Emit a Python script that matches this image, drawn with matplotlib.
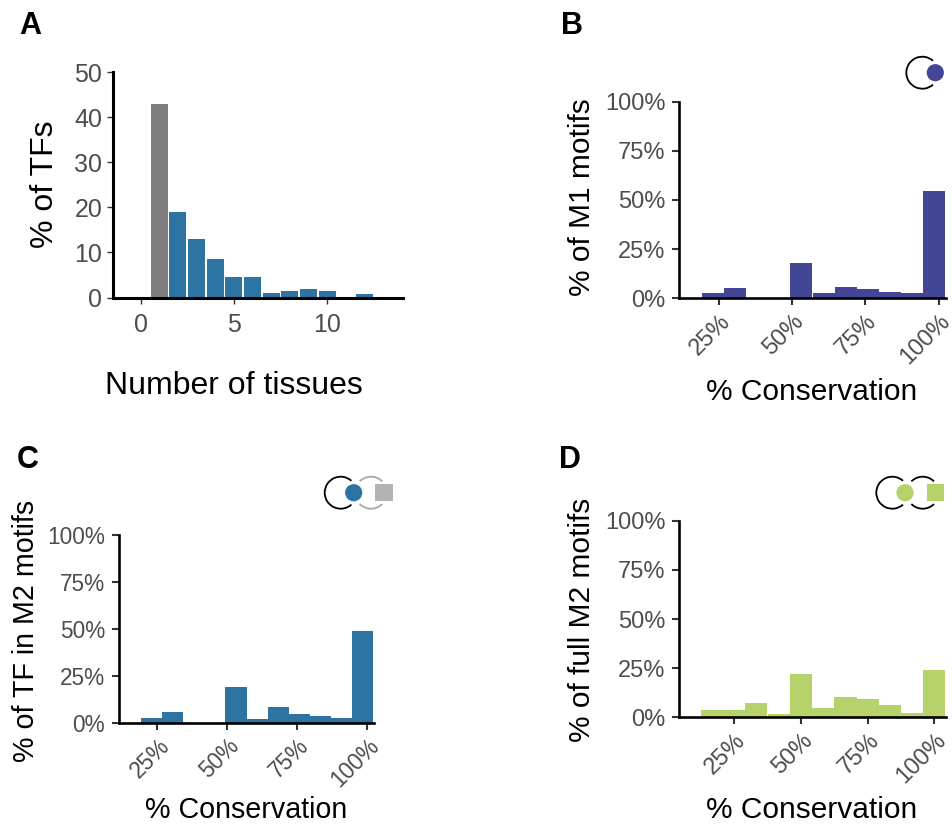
import matplotlib
matplotlib.use("Agg")
import matplotlib.pyplot as plt
from matplotlib.patches import Arc, Circle, Rectangle
from matplotlib.transforms import ScaledTranslation

plt.rcParams['font.family'] = ['Liberation Sans', 'DejaVu Sans']

W = 953
H = 825

# panel A
tissues = [1, 2, 3, 4, 5, 6, 7, 8, 9, 10, 12]
tf_pct = [42.9, 19, 13, 8.6, 4.5, 4.5, 0.9, 1.4, 1.8, 1.4, 0.7]

# panels B and C share the bins
cons_bins = [23, 30.5, 38.1, 45.6, 53.2, 60.8, 68.3, 75.9, 83.4, 91, 98.5]
m1_pct = [2.7, 5.3, 0, 0, 18, 2.7, 5.8, 4.7, 3.2, 2.7, 54.6]
tf_m2_pct = [2.5, 5.7, 0, 0, 19, 2, 8.3, 4.6, 3.6, 2.5, 49]

# panel D
full_bins = [16.7, 25, 33.3, 41.7, 50, 58.3, 66.7, 75, 83.3, 91.7, 100]
full_m2_pct = [3.7, 3.7, 7.3, 1.7, 22, 4.7, 10.3, 9.3, 6.3, 2.2, 24]

pct_ticks = [0, 25, 50, 75, 100]
pct_labels = ["0%", "25%", "50%", "75%", "100%"]
cons_ticks = [25, 50, 75, 100]
cons_labels = ["25%", "50%", "75%", "100%"]

BLUE = "#2d74a3"
GREY = "#7f7f7f"
PURPLE = "#434595"
GREEN = "#b6d26a"
TICK_COL = "#4d4d4d"


def make_axes(left, right, top, bottom):
    ax = fig.add_axes([left / W, 1 - bottom / H, (right - left) / W, (bottom - top) / H])
    ax.spines["top"].set_visible(False)
    ax.spines["right"].set_visible(False)
    ax.patch.set_alpha(0)
    return ax


def put_text(x, y, s, **kw):
    fig.text(x / W, 1 - y / H, s, **kw)


def pct_panel(box, xlim, bins, vals, col, width, ylabel, ylabel_xy, xlabel_xy, tick_size=17, label_size=21.5):
    ax = make_axes(*box)
    ax.bar(bins, vals, width=width, color=col, linewidth=0)
    ax.set_xlim(xlim)
    ax.set_ylim(0, 100)
    ax.set_yticks(pct_ticks)
    ax.set_yticklabels(pct_labels)
    ax.set_xticks(cons_ticks)
    ax.set_xticklabels(cons_labels, rotation=45, ha="right", va="top", rotation_mode="anchor")
    ax.tick_params(axis="both", labelsize=tick_size, labelcolor=TICK_COL, color="#333333", length=5, width=1.5)
    ax.tick_params(axis="y", pad=5)
    ax.tick_params(axis="x", pad=3.5)
    # nudge rotated labels a little to the right
    nudge = ScaledTranslation(0.5 / 100, 0, fig.dpi_scale_trans)
    for lab in ax.get_xticklabels():
        lab.set_transform(lab.get_transform() + nudge)
    for s in ["left", "bottom"]:
        ax.spines[s].set_linewidth(1.9)
        ax.spines[s].set_zorder(5)
    put_text(ylabel_xy[0], ylabel_xy[1], ylabel, fontsize=label_size, rotation=90, ha="center", va="center")
    put_text(xlabel_xy[0], xlabel_xy[1], "% Conservation", fontsize=label_size, ha="center", va="baseline")
    return ax


fig = plt.figure(figsize=(W / 100, H / 100), dpi=100)

# A
ax_a = make_axes(113.5, 403, 72, 297.5)
bar_cols = [GREY] + [BLUE] * (len(tissues) - 1)
ax_a.bar(tissues, tf_pct, width=0.92, color=bar_cols, linewidth=0)
ax_a.set_xlim(-1.45, 14.07)
ax_a.set_ylim(0, 50)
ax_a.set_xticks([0, 5, 10])
ax_a.set_yticks([0, 10, 20, 30, 40, 50])
ax_a.tick_params(axis="both", labelsize=18, labelcolor=TICK_COL, color="#333333", length=4, width=1)
ax_a.tick_params(axis="x", pad=7)
ax_a.tick_params(axis="y", pad=4)
for s in ["left", "bottom"]:
    ax_a.spines[s].set_linewidth(2.2)
    ax_a.spines[s].set_zorder(5)
put_text(45, 184, "% of TFs", fontsize=23, rotation=90, ha="center", va="center")
put_text(233.5, 394, "Number of tissues", fontsize=23, ha="center", va="baseline")

# B, C, D
pct_panel((679.3, 946, 101.7, 298.3), (11.6, 102.5), cons_bins, m1_pct, PURPLE, 7.57,
          "% of M1 motifs", (582, 197), (812, 400))
pct_panel((119, 374, 535, 722.7), (11.4, 102.5), cons_bins, tf_m2_pct, BLUE, 7.57,
          "% of TF in M2 motifs", (26, 631), (246, 818), tick_size=16.3, label_size=20.6)
pct_panel((679.3, 946, 520.7, 717.3), (4.4, 104.4), full_bins, full_m2_pct, GREEN, 8.33,
          "% of full M2 motifs", (582, 620), (812, 818))

# panel letters
put_text(19, 34, "A", fontsize=22, fontweight="bold", ha="left", va="baseline")
put_text(561, 34, "B", fontsize=22, fontweight="bold", ha="left", va="baseline")
put_text(17, 468, "C", fontsize=22, fontweight="bold", ha="left", va="baseline")
put_text(559, 468, "D", fontsize=22, fontweight="bold", ha="left", va="baseline")

# motif icons, overlay in pixel coordinates
ov = fig.add_axes([0, 0, 1, 1], zorder=10)
ov.set_xlim(0, W)
ov.set_ylim(H, 0)
ov.axis("off")
ov.patch.set_alpha(0)


def arc(x, y, a1, a2, col="black"):
    # y axis is flipped so the angles run clockwise on screen
    ov.add_patch(Arc((x, y), 32, 32, theta1=a1, theta2=a2, color=col, lw=1.3))


def dot(x, y, col):
    ov.add_patch(Circle((x, y), 8.6, color=col, lw=0))


def square(x, y, col):
    ov.add_patch(Rectangle((x, y - 8.7), 17.4, 17.4, color=col, lw=0))


arc(922.3, 72.7, 48, 312)
dot(935.3, 72.7, PURPLE)

arc(340.7, 492.7, 48, 312)
arc(371, 492.7, 45, 135, "#a6a6a6")
arc(371, 492.7, 225, 315, "#a6a6a6")
dot(353.7, 492.7, BLUE)
square(375.3, 492.7, "#b3b3b3")

arc(892.3, 492.7, 48, 312)
arc(922.7, 492.7, 45, 135)
arc(922.7, 492.7, 225, 315)
dot(905, 492.7, GREEN)
square(926.7, 492.7, GREEN)

fig.savefig("out.png", dpi=100)
